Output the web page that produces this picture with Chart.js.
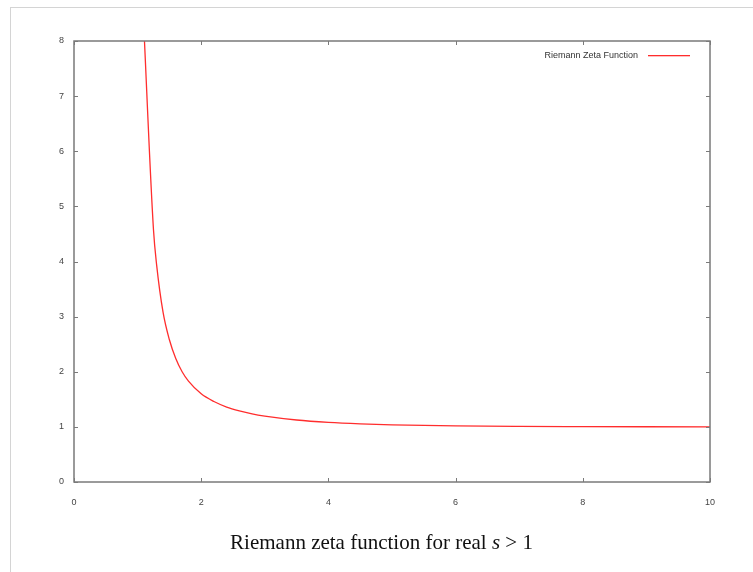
<!DOCTYPE html>
<html>
<head>
<meta charset="utf-8">
<script src="https://cdn.jsdelivr.net/npm/chart.js@4.4.0/dist/chart.umd.min.js"></script>
<style>
    html, body { margin: 0; padding: 0; background: #fff; }
    #wrap { position: relative; width: 753px; height: 572px; overflow: hidden; }
    #frame { position: absolute; left: 10px; top: 7px; width: 800px; height: 600px;
             border-left: 1px solid #d4d4d4; border-top: 1px solid #d4d4d4; }
    #zeta-chart { position: absolute; left: 0; top: 0; }
    #caption { position: absolute; left: 0; width: 763px; top: 530px; text-align: center;
               font-family: "Liberation Serif", "Times New Roman", serif; font-size: 21px; color: #111; }
</style>
</head>
<body>
<div id="wrap">
    <div id="frame"></div>
    <canvas id="zeta-chart" width="753" height="572"></canvas>
    <div id="caption">Riemann zeta function for real <i>s</i> &gt; 1</div>
</div>
<script>
    // values
    var sValues = [1.09, 1.25, 1.3, 1.4, 1.5, 1.6, 1.7, 1.8, 2.0, 2.2, 2.4, 2.6, 2.8, 3.0, 3.5, 4.0, 4.5, 5.0, 6.0, 7.0, 8.0, 9.0, 10.0];
    var zetaValues = [8.45, 4.57, 3.93, 3.08, 2.58, 2.24, 2.00, 1.83, 1.60, 1.46, 1.36, 1.29, 1.235, 1.195, 1.125, 1.082, 1.055, 1.037, 1.017, 1.008, 1.004, 1.002, 1.001];
    var xTicks = [0, 2, 4, 6, 8, 10];
    var yTicks = [0, 1, 2, 3, 4, 5, 6, 7, 8];
    var seriesLabel = 'Riemann Zeta Function';

    var frameColor = '#7a7a7a';
    var lineColor = '#ff2d2d';

    var points = sValues.map(function (s, i) {
        return {x: s, y: zetaValues[i]};
    });

    // gnuplot style box with inward ticks on every side, plus the key
    var gnuplotFrame = {
        id: 'gnuplotFrame',
        afterDatasetsDraw: function (chart) {
            var c = chart.ctx;
            var a = chart.chartArea;
            var xs = chart.scales.x;
            var ys = chart.scales.y;
            var tl = 4;
            c.save();
            c.strokeStyle = frameColor;
            c.lineWidth = 1.5;
            c.strokeRect(a.left, a.top, a.right - a.left, a.bottom - a.top);
            c.lineWidth = 1;
            c.beginPath();
            xTicks.forEach(function (v) {
                var px = Math.round(xs.getPixelForValue(v)) + 0.5;
                c.moveTo(px, a.bottom);
                c.lineTo(px, a.bottom - tl);
                c.moveTo(px, a.top);
                c.lineTo(px, a.top + tl);
            });
            yTicks.forEach(function (v) {
                var py = Math.round(ys.getPixelForValue(v)) + 0.5;
                c.moveTo(a.left, py);
                c.lineTo(a.left + tl, py);
                c.moveTo(a.right, py);
                c.lineTo(a.right - tl, py);
            });
            c.stroke();

            // key
            var ky = Math.round(a.top + 14);
            c.font = '9px "Liberation Sans", Arial, sans-serif';
            c.fillStyle = '#333';
            c.textAlign = 'right';
            c.textBaseline = 'middle';
            c.fillText(seriesLabel, a.right - 72, ky + 0.5);
            c.fillStyle = lineColor;
            c.fillRect(a.right - 62, ky, 42, 1.3);
            c.restore();
        }
    };

    var canvas = document.getElementById('zeta-chart');
    var chart = new Chart(canvas, {
        type: 'line',
        data: {
            datasets: [{
                label: seriesLabel,
                data: points,
                borderColor: lineColor,
                borderWidth: 1.3,
                pointRadius: 0,
                fill: false,
                cubicInterpolationMode: 'monotone'
            }]
        },
        options: {
            responsive: false,
            animation: false,
            layout: {
                padding: {left: 0, top: 41, right: 43, bottom: 0}
            },
            plugins: {
                legend: {display: false},
                tooltip: {enabled: false}
            },
            scales: {
                x: {
                    type: 'linear',
                    min: 0,
                    max: 10,
                    afterBuildTicks: function (axis) {
                        axis.ticks = xTicks.map(function (v) { return {value: v}; });
                    },
                    afterFit: function (axis) { axis.height = 90; },
                    grid: {display: false, drawTicks: false},
                    border: {display: false},
                    ticks: {
                        padding: 15,
                        maxRotation: 0,
                        color: '#444',
                        font: {family: '"Liberation Sans", Arial, sans-serif', size: 9}
                    }
                },
                y: {
                    type: 'linear',
                    min: 0,
                    max: 8,
                    afterBuildTicks: function (axis) {
                        axis.ticks = yTicks.map(function (v) { return {value: v}; });
                    },
                    afterFit: function (axis) { axis.width = 74; },
                    grid: {display: false, drawTicks: false},
                    border: {display: false},
                    ticks: {
                        padding: 10,
                        color: '#444',
                        font: {family: '"Liberation Sans", Arial, sans-serif', size: 9}
                    }
                }
            }
        },
        plugins: [gnuplotFrame]
    });
</script>
</body>
</html>
